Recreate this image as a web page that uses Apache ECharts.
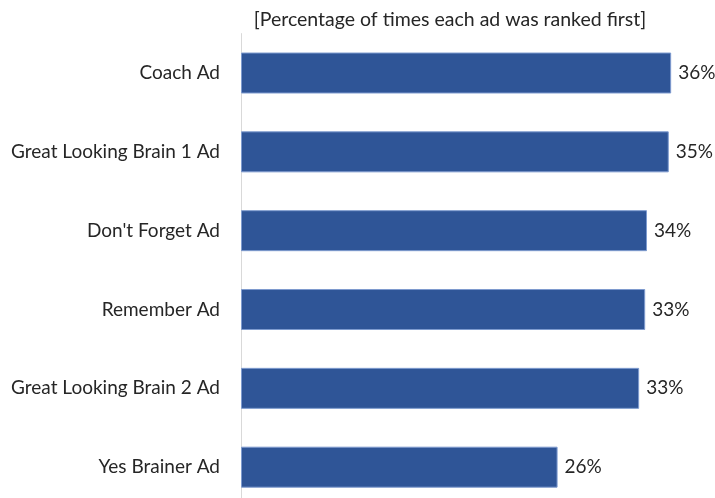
<!DOCTYPE html>
<html>
<head>
<meta charset="utf-8">
<script src="https://cdn.jsdelivr.net/npm/echarts@6/dist/echarts.min.js"></script>
<style>
  html, body { margin: 0; padding: 0; background: #fff; }
  #chart { width: 715px; height: 498px; }
</style>
</head>
<body>
<div id="chart"></div>
<script>
// Ad names, top to bottom
const categories = [
  'Coach Ad',
  'Great Looking Brain 1 Ad',
  "Don't Forget Ad",
  'Remember Ad',
  'Great Looking Brain 2 Ad',
  'Yes Brainer Ad'
];
// Share of times each ad was ranked first (%)
const firstRankShare = [35.6, 35.4, 33.6, 33.45, 32.95, 26.2];

const chartTitle = '[Percentage of times each ad was ranked first]';
const fontFamily = 'Lato, "Open Sans", sans-serif';
const textColor = '#262626';

const chart = echarts.init(document.getElementById('chart'), null, { renderer: 'canvas' });

chart.setOption({
  animation: false,
  title: {
    text: chartTitle,
    left: 445,
    top: 5,
    textAlign: 'center',
    textStyle: { fontFamily, fontSize: 19.5, fontWeight: 'normal', color: textColor }
  },
  // the plot area runs a little past the bottom edge, so the axis line reaches the border
  grid: { left: 241, right: 39, top: 33.6, bottom: -8.6, outerBoundsMode: 'none', containLabel: false },
  xAxis: {
    type: 'value',
    min: 0,
    max: 36,
    show: false
  },
  yAxis: {
    type: 'category',
    data: categories,
    inverse: true,
    axisLine: { show: true, lineStyle: { color: '#d9d9d9', width: 1 } },
    axisTick: { show: false },
    axisLabel: {
      margin: 21,
      fontFamily,
      fontSize: 19,
      color: textColor
    }
  },
  series: [{
    type: 'bar',
    data: firstRankShare,
    barWidth: '52%',
    itemStyle: { color: '#2f5597', borderColor: '#7e9bcf', borderWidth: 1 },
    label: {
      show: true,
      position: 'right',
      distance: 7,
      fontFamily,
      fontSize: 19,
      color: textColor,
      formatter: p => Math.round(p.value) + '%'
    }
  }]
});
</script>
</body>
</html>
